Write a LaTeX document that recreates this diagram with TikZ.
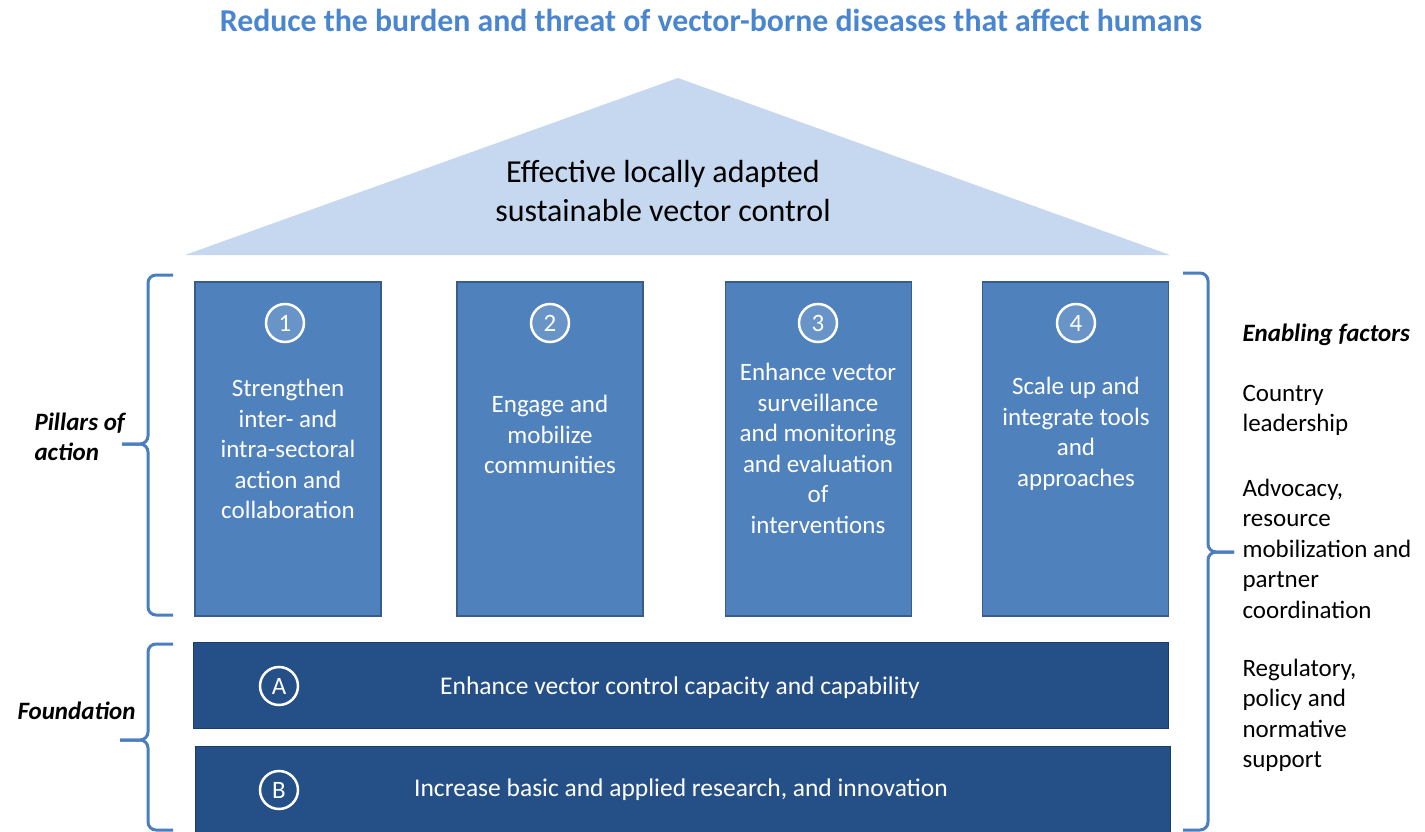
\documentclass[tikz,border=0pt]{standalone}
\usepackage{fontspec}
\setmainfont{Carlito}
\usepackage{xcolor}

\definecolor{aimblue}{HTML}{4A86D0}
\definecolor{roofblue}{HTML}{C5D8EF}
\definecolor{pillarblue}{HTML}{4F81BD}
\definecolor{pillarline}{HTML}{385D8A}
\definecolor{founddark}{HTML}{254F87}
\definecolor{foundline}{HTML}{1C3B66}
\definecolor{bracecol}{HTML}{4A7EBF}

\tikzset{
  pillar/.style={draw=pillarline, fill=pillarblue, line width=1.5pt,
    minimum width=186pt, minimum height=334pt, inner sep=0pt},
  foundation/.style={draw=foundline, fill=founddark, line width=1pt,
    minimum width=975pt, minimum height=86pt, inner sep=0pt},
  numcirc/.style={circle, draw=white, line width=2.5pt, minimum size=38pt,
    inner sep=0pt, text=white, font=\fontsize{25}{28}\selectfont},
  ptext/.style={text=white, align=center, font=\fontsize{25}{30.5}\selectfont},
  side/.style={align=left, anchor=west, font=\fontsize{25}{30.5}\selectfont},
  sidehead/.style={side, font=\fontsize{25}{30.5}\selectfont\bfseries\itshape},
  brace/.style={draw=bracecol, line width=3pt, rounded corners=8pt}
}

\begin{document}
\begin{tikzpicture}[x=1pt, y=-1pt]

    \useasboundingbox (0,0) rectangle (1425,832);

    \node[text=aimblue, font=\fontsize{31.8}{36}\selectfont\bfseries] (aim) at (711,20)
      {Reduce the burden and threat of vector-borne diseases that affect humans};

    \fill[roofblue] (185,255) -- (678,78) -- (1170,255) -- cycle;
    \node[align=center, font=\fontsize{32}{39}\selectfont] (roof) at (663,191)
      {Effective locally adapted\\sustainable vector control};

    \node[pillar] (p1) at (288,449) {};
    \node[pillar] (p2) at (550,449) {};
    \node[pillar] (p3) at (818.5,449) {};
    \node[pillar] (p4) at (1075.5,449) {};

    \node[numcirc, fill=pillarblue!85!white] (c1) at (285,323) {1};
    \node[numcirc, fill=pillarblue!85!white] (c2) at (550,323) {2};
    \node[numcirc, fill=pillarblue!85!white] (c3) at (818,323) {3};
    \node[numcirc, fill=pillarblue!85!white] (c4) at (1076,323) {4};

    \node[ptext] (t1) at (288,449) {Strengthen\\inter- and\\intra-sectoral\\action and\\collaboration};
    \node[ptext] (t2) at (550,434.5) {Engage and\\mobilize\\communities};
    \node[ptext] (t3) at (818,448.5) {Enhance vector\\surveillance\\and monitoring\\and evaluation\\of\\interventions};
    \node[ptext] (t4) at (1076,434) {Scale up and\\integrate tools\\and\\approaches};

    \node[foundation] (fa) at (680.5,685) {};
    \node[foundation] (fb) at (682.5,789) {};
    \node[numcirc] (ca) at (279,686) {A};
    \node[numcirc] (cb) at (279,790) {B};
    \node[ptext, font=\fontsize{25.5}{30.5}\selectfont] (ta) at (680,688) {Enhance vector control capacity and capability};
    \node[ptext, font=\fontsize{25.5}{30.5}\selectfont] (tb) at (681,790) {Increase basic and applied research, and innovation};

    \draw[brace] (173,275) -- (148,275) -- (148,444) -- (122,444);
    \draw[brace] (122,444) -- (148,444) -- (148,615) -- (173,615);
    \draw[brace] (173,644) -- (148,644) -- (148,740) -- (120,740);
    \draw[brace] (120,740) -- (148,740) -- (148,830) -- (173,830);
    \draw[brace] (1183,273) -- (1208,273) -- (1208,552) -- (1234,552);
    \draw[brace] (1234,552) -- (1208,552) -- (1208,830) -- (1183,830);

    \node[sidehead] (pillars) at (31,437) {Pillars of\\action};
    \node[sidehead] (found) at (14,711) {Foundation};

    \node[sidehead] (enab) at (1239,335) {Enabling factors};
    \node[side] (e1) at (1239,410.5) {Country\\leadership};
    \node[side] (e2) at (1239,548.5) {Advocacy,\\resource\\mobilization and\\partner\\coordination};
    \node[side] (e3) at (1239,715.5) {Regulatory,\\policy and\\normative\\support};

\end{tikzpicture}
\end{document}
